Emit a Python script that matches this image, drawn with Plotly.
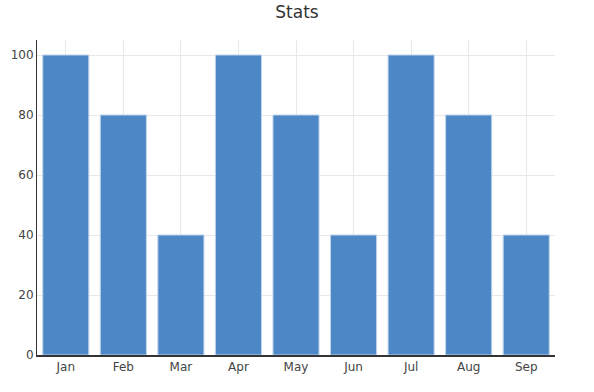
import plotly.graph_objects as go

months = ["Jan", "Feb", "Mar", "Apr", "May", "Jun", "Jul", "Aug", "Sep"]
values = [100, 80, 40, 100, 80, 40, 100, 80, 40]

fig = go.Figure(go.Bar(
    x=months, y=values,
    marker=dict(color="#4e87c6", line=dict(color="rgba(190,210,235,1)", width=1)),
))
fig.update_layout(
    width=594, height=392,
    title=dict(text="Stats", x=0.5, xanchor="center", y=0.97, yanchor="middle",
               font=dict(family="DejaVu Sans", size=17, color="#333")),
    font=dict(family="DejaVu Sans", size=12, color="#444"),
    margin=dict(l=37, r=39, t=40, b=37, autoexpand=False),
    plot_bgcolor="white", paper_bgcolor="white",
    bargap=0.2, showlegend=False,
)
fig.update_xaxes(showgrid=True, gridcolor="#e8e8e8", showline=True, linecolor="#333",
                 linewidth=2, ticks="", zeroline=False, automargin=False)
fig.update_yaxes(range=[0, 105], dtick=20, showgrid=True, gridcolor="#e8e8e8",
                 showline=True, linecolor="#333", linewidth=1, ticks="", zeroline=False,
                 automargin=False)
fig.write_html("out.html", config={"displayModeBar": False},
               post_script="document.body.style.margin='0';")
